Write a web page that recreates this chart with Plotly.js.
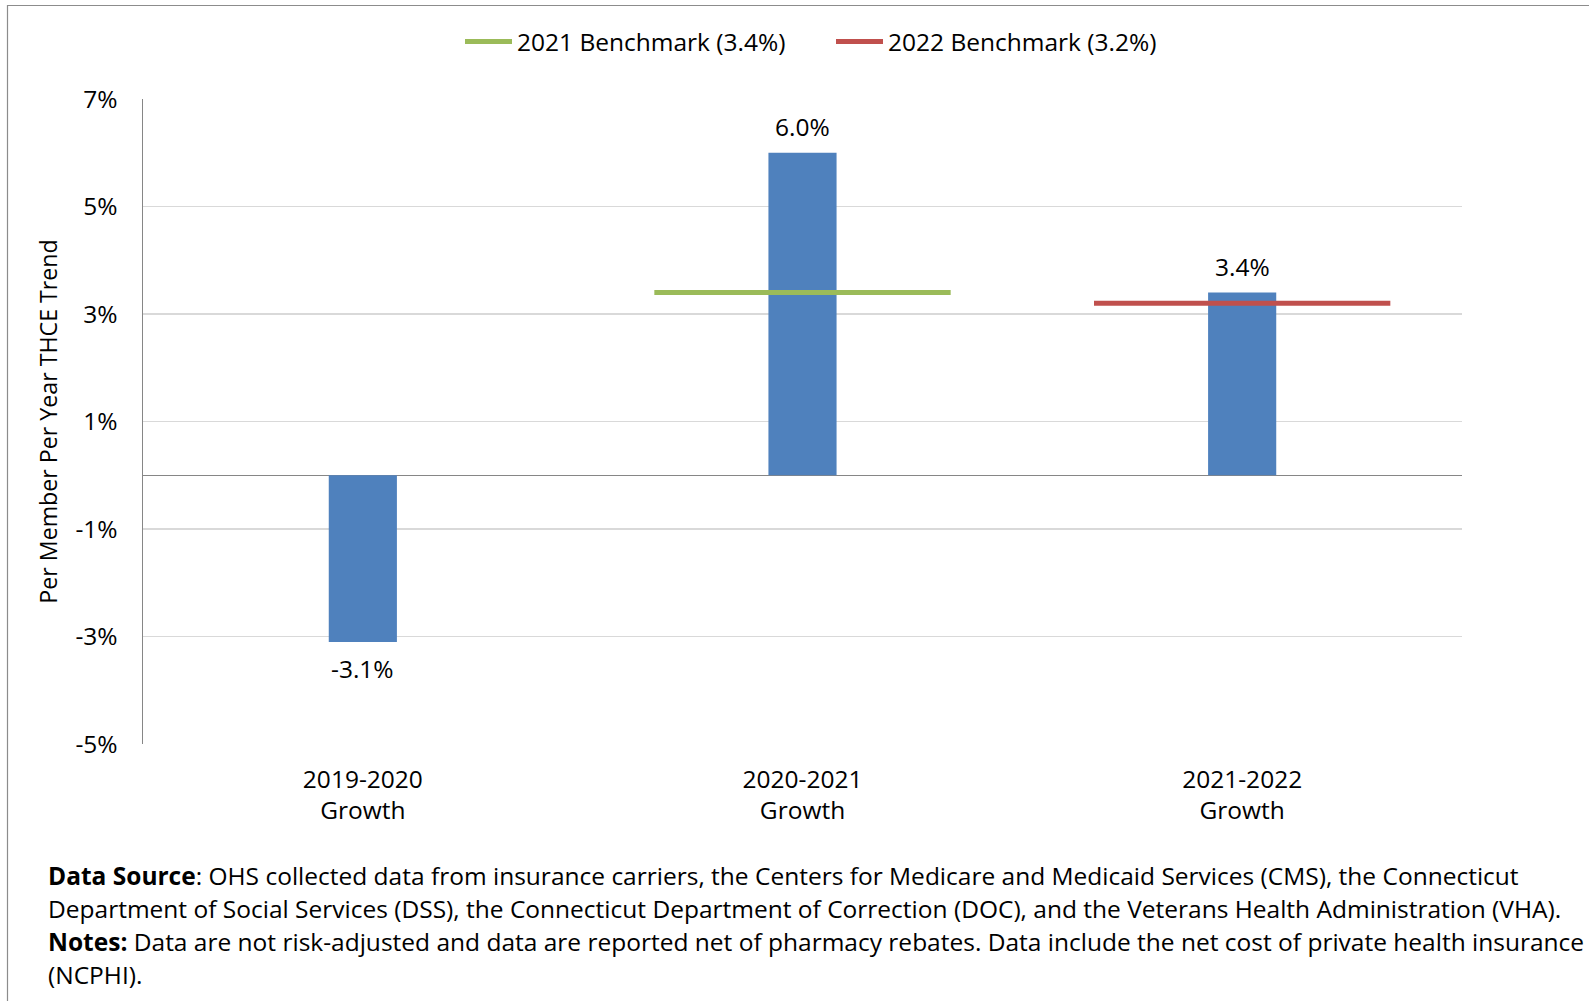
<!DOCTYPE html>
<html>
<head>
<meta charset="utf-8">
<script src="https://cdn.plot.ly/plotly-3.0.1.min.js"></script>
<style>
  html, body { margin: 0; padding: 0; background: #fff; }
  #chart { width: 1589px; height: 1001px; }
</style>
</head>
<body>
<div id="chart"></div>
<script>
// ---- Data ----
const categories = ['2019-2020<br>Growth', '2020-2021<br>Growth', '2021-2022<br>Growth'];
const growthValues = [-3.1, 6.0, 3.4];
const benchmarkNames = ['2021 Benchmark (3.4%)', '2022 Benchmark (3.2%)'];
const benchmarkValues = [3.4, 3.2];
const benchmarkCategory = [1, 2];
const yTickValues = [7, 5, 3, 1, -1, -3, -5];
const yTickLabels = ['7%', '5%', '3%', '1%', '-1%', '-3%', '-5%'];
const yAxisTitle = 'Per Member Per Year THCE Trend';
const footnoteLines = [
  '<b>Data Source</b>: OHS collected data from insurance carriers, the Centers for Medicare and Medicaid Services (CMS), the Connecticut',
  'Department of Social Services (DSS), the Connecticut Department of Correction (DOC), and the Veterans Health Administration (VHA).',
  '<b>Notes:</b> Data are not risk-adjusted and data are reported net of pharmacy rebates. Data include the net cost of private health insurance',
  '(NCPHI).'
];

// ---- Styles / geometry ----
const FONT = '"Open Sans", "Noto Sans", sans-serif';
const FS = 24.5;
const W = 1589, H = 1001;
const M = {l: 143, r: 127, t: 99, b: 257};
const plotW = W - M.l - M.r, plotH = H - M.t - M.b;
const pxX = p => (p - M.l) / plotW;
const pxY = p => 1 - (p - M.t) / plotH;
const BAR_COLOR = '#4F81BD';
const BENCH_COLORS = ['#9BBB59', '#C0504D'];
const BENCH_HALF = 0.337;
const xIdx = categories.map((_, i) => i);

const traces = [{
  type: 'bar',
  x: xIdx,
  y: growthValues,
  width: 0.155,
  marker: {color: BAR_COLOR},
  showlegend: false,
  hoverinfo: 'skip'
}];
benchmarkValues.forEach((v, k) => {
  const c = benchmarkCategory[k];
  traces.push({
    type: 'scatter',
    mode: 'lines',
    name: benchmarkNames[k],
    x: [c - BENCH_HALF, c + BENCH_HALF],
    y: [v, v],
    line: {color: BENCH_COLORS[k], width: 5},
    hoverinfo: 'skip'
  });
});

const annotations = growthValues.map((v, i) => ({
  x: i, y: v, xref: 'x', yref: 'y',
  text: v.toFixed(1) + '%',
  showarrow: false,
  yshift: v >= 0 ? 26 : -27,
  font: {family: FONT, size: FS, color: '#000'}
}));
const footY = [875, 908, 941, 974];
footnoteLines.forEach((t, i) => {
  annotations.push({
    xref: 'paper', yref: 'paper',
    x: pxX(46), y: pxY(footY[i]),
    xanchor: 'left', yanchor: 'middle', align: 'left',
    text: t, showarrow: false,
    font: {family: FONT, size: 24.5, color: '#000'}
  });
});

const layout = {
  width: W, height: H,
  margin: M,
  paper_bgcolor: '#fff', plot_bgcolor: '#fff',
  font: {family: FONT, size: FS, color: '#000'},
  showlegend: true,
  legend: {
    orientation: 'h',
    x: pxX(460), xanchor: 'left',
    y: pxY(41.5), yanchor: 'middle',
    itemwidth: 47,
    entrywidth: 309, entrywidthmode: 'pixels',
    font: {family: FONT, size: FS, color: '#000'},
    bgcolor: 'rgba(0,0,0,0)'
  },
  xaxis: {
    range: [-0.5, 2.5],
    tickmode: 'array', tickvals: xIdx, ticktext: categories,
    showgrid: false, zeroline: false, showline: false,
    ticks: '', ticklabelstandoff: 18,
    tickfont: {family: FONT, size: FS, color: '#000'},
    fixedrange: true
  },
  yaxis: {
    range: [-5, 7],
    tickmode: 'array', tickvals: yTickValues, ticktext: yTickLabels,
    showgrid: true, gridcolor: '#D9D9D9', gridwidth: 1.5,
    zeroline: true, zerolinecolor: '#868686', zerolinewidth: 1.5,
    showline: true, linecolor: '#868686', linewidth: 1.5,
    ticks: '', ticklabelstandoff: 19,
    tickfont: {family: FONT, size: FS, color: '#000'},
    title: {text: yAxisTitle, font: {family: FONT, size: 23.2, color: '#000'}, standoff: 11},
    automargin: false,
    fixedrange: true
  },
  annotations: annotations,
  shapes: [{
    type: 'rect', xref: 'paper', yref: 'paper',
    x0: pxX(7.5), x1: pxX(1600), y0: pxY(1010), y1: pxY(5.5),
    line: {color: '#8C8C8C', width: 1.2}, fillcolor: 'rgba(0,0,0,0)', layer: 'above'
  }]
};

Plotly.newPlot('chart', traces, layout, {displayModeBar: false, staticPlot: true});
</script>
</body>
</html>
